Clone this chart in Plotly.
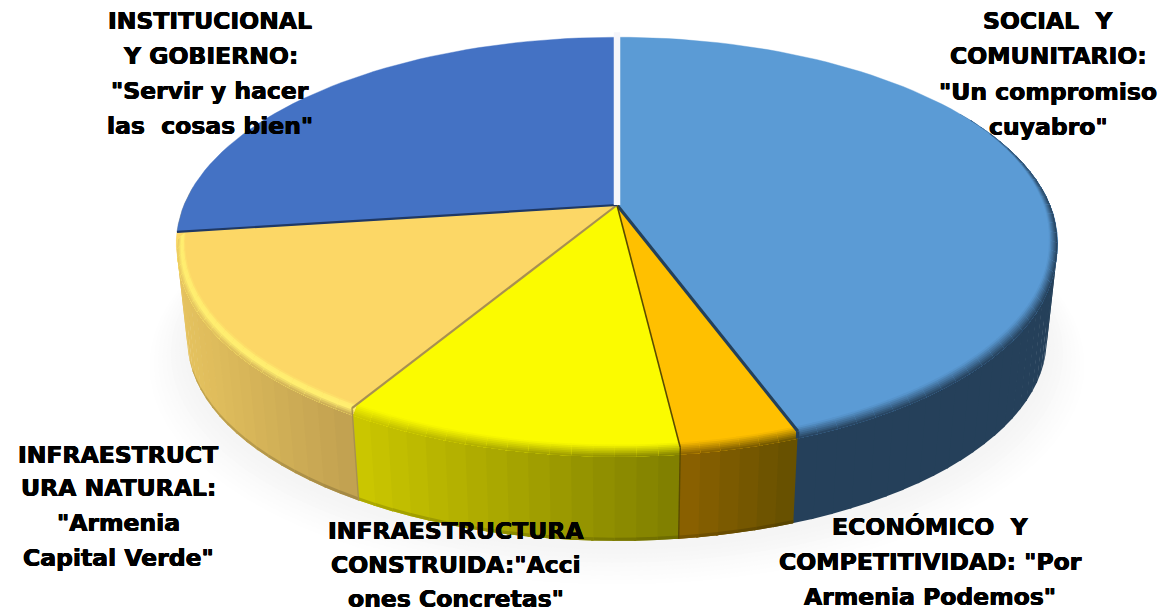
import math
import plotly.graph_objects as go

# Data (clockwise from 12 o'clock)
categories = ["Social y comunitario", "Económico y competitividad", "Infraestructura construida",
              "Infraestructura natural", "Institucional y gobierno"]
values = [44.4, 3.7, 10.5, 14.3, 27.1]
face_colors = ["#5B9BD5", "#FFC000", "#FBFB00", "#FCD766", "#4472C4"]
wall_left = ["#25405A", "#8C6200", "#CCC800", "#E6C35F", "#2E4B82"]
wall_right = ["#25405A", "#655000", "#7E7E00", "#C0A050", "#2E4B82"]
rim_highlight = [None, None, None, "#FFEE70", None]
# boundary lines: after each slice, clockwise
edge_colors = ["#24405A", "#5A4A00", "#A89050", "#1F3864"]
edge_widths = [3.2, 1.6, 2.2, 2.2]

label_lines = [
    ["SOCIAL  Y", "COMUNITARIO:", "\"Un compromiso", "cuyabro\""],
    ["ECONÓMICO  Y", "COMPETITIVIDAD: \"Por", "Armenia Podemos\""],
    ["INFRAESTRUCTURA", "CONSTRUIDA:\"Acci", "ones Concretas\""],
    ["INFRAESTRUCT", "URA NATURAL:", "\"Armenia", "Capital Verde\""],
    ["INSTITUCIONAL", "Y GOBIERNO:", "\"Servir y hacer", "las  cosas bien\""],
]
label_x = [1048, 930, 456, 118, 210]
label_y = [[21, 56, 92, 127], [527, 562, 597], [531, 565, 599], [455, 488, 523, 558], [21, 56, 91, 126]]

# Projection of the tilted disc
CX, CY, A, B, K = 617, 205, 433, 199, 0.186
DEPTH, SHRINK = 97.5, 0.025


def proj(theta, r=1.0, z=0.0):
    t = math.radians(theta)
    d = 1 + K * math.cos(t)
    sc = (1 - SHRINK * z) * r
    return CX + sc * A * math.sin(t) / d, CY + DEPTH * z - sc * B * math.cos(t) / d


def rgb(h):
    return tuple(int(h[i:i + 2], 16) for i in (1, 3, 5))


def mix(a, b, t):
    ca, cb = rgb(a), rgb(b)
    return "#%02X%02X%02X" % tuple(round(ca[i] + (cb[i] - ca[i]) * t) for i in range(3))


fig = go.Figure()


def poly(points, color, line=0.0):
    fig.add_trace(go.Scatter(x=[p[0] for p in points], y=[p[1] for p in points], mode="lines",
                             fill="toself", fillcolor=color, line=dict(color=color, width=line),
                             hoverinfo="skip", showlegend=False))


def stroke(points, color, width):
    fig.add_trace(go.Scatter(x=[p[0] for p in points], y=[p[1] for p in points], mode="lines",
                             line=dict(color=color, width=width), hoverinfo="skip", showlegend=False))


def arange(a, b, step):
    n = max(1, math.ceil((b - a) / step))
    return [a + (b - a) * i / n for i in range(n + 1)]


# Slice boundaries
total = sum(values)
bounds = [0.0]
for v in values:
    bounds.append(bounds[-1] + v / total * 360)

# Soft floor shadow
for i in range(10, 0, -1):
    f = i / 10
    shade = mix("#F4F4F4", "#FFFFFF", f)
    pts = [proj(a, 1.0 + 0.105 * f, 1.05 + 0.2 * f) for a in arange(0, 360, 4)]
    poly(pts, shade)


def wall_color(k, a, xmin, xmax):
    return mix(wall_left[k], wall_right[k], (proj(a)[0] - xmin) / (xmax - xmin))


def slice_span(k):
    lo, hi = max(bounds[k], 60), bounds[k + 1]
    segs = arange(lo, hi, 2.5)
    xs = [proj(a)[0] for a in segs]
    return segs, min(xs), max(xs)


# Side walls: the part turning away is drawn first so the front covers it
OVERLAP = 0.25
for k in range(4):
    segs, xmin, xmax = slice_span(k)
    if k == 3:
        segs = segs + [a for a in arange(segs[-1], 275, 2.5)[1:]]
    pairs = list(zip(segs, segs[1:]))
    if k == 3:
        pairs.reverse()
    for a0, a1 in pairs:
        a2 = a1 + OVERLAP
        wall = wall_color(k, min((a0 + a1) / 2, bounds[k + 1]), xmin, xmax)
        poly([proj(a0, 1, 0), proj(a2, 1, 0), proj(a2, 1, 1), proj(a0, 1, 1)], wall)
        if k > 0:
            poly([proj(a0, 1, 0.965), proj(a2, 1, 0.965), proj(a2, 1, 1), proj(a0, 1, 1)],
                 mix(wall, "#000000", 0.15))

# Top faces
for k in range(5):
    arc = [proj(a) for a in arange(bounds[k], bounds[k + 1], 2)]
    poly([proj(0, 0)] + arc, face_colors[k], 0.4)

# Rim bevel, fading in over the shoulder of the disc
BEVEL = 0.08
INSET = 0.02


def inset_at(a):
    return INSET * max(0.0, min(1.0, (a - 62) / 38))


def drop_at(a):
    return BEVEL * max(0.0, min(1.0, (a - 92) / 25))


for k in range(4):
    segs, xmin, xmax = slice_span(k)
    for a0, a1 in zip(segs, segs[1:]):
        a2 = a1 + OVERLAP if k < 3 else a1
        am = (a0 + a1) / 2
        wall = wall_color(k, am, xmin, xmax)
        nb = 7
        for b in range(nb):
            s0 = b / nb
            t = (b + 0.5) / nb
            if rim_highlight[k]:
                if t < 0.25:
                    c = mix(face_colors[k], rim_highlight[k], t / 0.25)
                elif t < 0.5:
                    c = rim_highlight[k]
                else:
                    c = mix(rim_highlight[k], wall, (t - 0.5) / 0.5)
            else:
                c = mix(face_colors[k], wall, t)
            i0, i2 = inset_at(a0), inset_at(a2)
            d0, d2 = drop_at(a0), drop_at(a2)
            poly([proj(a0, 1 - i0 * (1 - s0), d0 * s0), proj(a2, 1 - i2 * (1 - s0), d2 * s0),
                  proj(a2, 1, d2), proj(a0, 1, d0)], c)

# Boundary lines on face and on the wall
for k in range(4):
    a = bounds[k + 1]
    stroke([proj(a, 0), proj(a)], edge_colors[k], edge_widths[k])
    if k in (1, 2):
        stroke([proj(a), proj(a, 1, 1)], edge_colors[k], 1.4)
    elif k == 0:
        stroke([proj(a), proj(a, 1, BEVEL)], edge_colors[k], edge_widths[k])

# Gap between the first and last slice
stroke([proj(0, 0), proj(0, 1.03)], "#F6F6FA", 6.5)

annotations = []
for lines, x, ys in zip(label_lines, label_x, label_y):
    for line, y in zip(lines, ys):
        annotations.append(dict(x=x, y=y, xref="x", yref="y", text="<b>%s</b>" % line.replace("  ", "\u00a0\u00a0"),
                                showarrow=False, xanchor="center", yanchor="middle",
                                font=dict(family="DejaVu Sans", size=23.5, color="black",
                                          shadow="0.4px 0 0 #000, -0.4px 0 0 #000, 0 0.3px 0 #000")))

fig.update_layout(
    width=1159, height=612, margin=dict(l=0, r=0, t=0, b=0),
    paper_bgcolor="white", plot_bgcolor="white", showlegend=False,
    xaxis=dict(range=[0, 1159], visible=False, fixedrange=True),
    yaxis=dict(range=[612, 0], visible=False, fixedrange=True),
    annotations=annotations,
)

fig.write_html("out.html", config={"displayModeBar": False},
               post_script="document.body.style.margin='0';document.documentElement.style.overflow='hidden';")
